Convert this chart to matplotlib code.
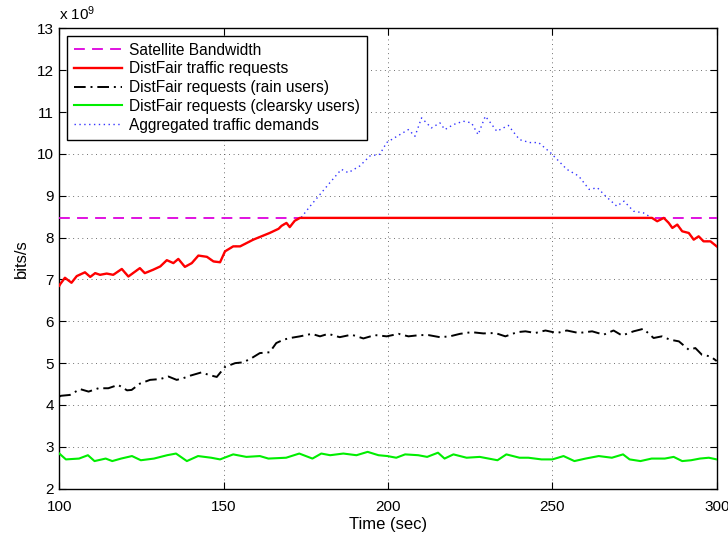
import matplotlib
matplotlib.use("Agg")
import matplotlib.pyplot as plt

plt.rcParams['font.family'] = ['Liberation Sans', 'DejaVu Sans']
plt.rcParams['mathtext.fontset'] = 'custom'
plt.rcParams['mathtext.rm'] = 'Liberation Sans'
plt.rcParams['mathtext.it'] = 'Liberation Sans'

# ---- data (values in units of 1e9 bits/s) ----
bandwidth = 8.47

agg_t = [100, 100.2, 101.7, 103.7, 105.3, 107.8, 109.4, 110.9, 112.4, 114.4, 116.4, 119.0,
         121.0, 124.5, 126.0, 128.5, 130.7, 132.7, 134.7, 136.2, 138.2, 140.3, 142.3,
         144.9, 146.9, 148.9, 150.4, 152.9, 155.0, 157.0, 159.0, 161.5, 164.0, 166.7, 167.6,
         169.1, 170.1, 171.6, 173.7, 176.3, 179.3, 182.3, 185.8, 187.9, 191.4, 194.5, 197.5,
         199.6, 202.1, 206.2, 208.2, 210.2, 213.2, 215.8, 217.3, 219.9, 222.9, 225.4, 227.4,
         229.6, 231.1, 233.1, 236.6, 240.0, 243.1, 245.8, 249.4, 251.9, 254.4, 258.0,
         261.2, 263.7, 266.2, 269.6, 271.8, 274.7, 277.7, 280.3, 281.9, 283.9, 285.4, 286.5,
         288.0, 289.5, 291.5, 293.0, 294.5, 296.0, 298.1, 300]
agg_v = [6.85, 6.88, 7.04, 6.92, 7.08, 7.17, 7.06, 7.15, 7.11, 7.14, 7.11, 7.25,
         7.07, 7.27, 7.15, 7.23, 7.31, 7.46, 7.39, 7.49, 7.30, 7.39, 7.57,
         7.54, 7.43, 7.41, 7.67, 7.79, 7.79, 7.87, 7.95, 8.03, 8.11, 8.21, 8.28,
         8.35, 8.25, 8.40, 8.49, 8.75, 9.03, 9.31, 9.63, 9.55, 9.71, 9.95, 9.99,
         10.27, 10.39, 10.58, 10.42, 10.86, 10.62, 10.74, 10.58, 10.70, 10.78, 10.74, 10.46,
         10.90, 10.75, 10.54, 10.68, 10.34, 10.27, 10.27, 10.03, 9.83, 9.63, 9.47,
         9.15, 9.19, 8.99, 8.75, 8.87, 8.63, 8.59, 8.47, 8.39, 8.47, 8.35, 8.23,
         8.31, 8.15, 8.11, 7.95, 8.03, 7.91, 7.91, 7.79]

red_t = [100, 100.2, 101.7, 103.7, 105.3, 107.8, 109.4, 110.9, 112.4, 114.4, 116.4, 119.0,
         121.0, 124.5, 126.0, 128.5, 130.7, 132.7, 134.7, 136.2, 138.2, 140.3, 142.3,
         144.9, 146.9, 148.9, 150.4, 152.9, 155.0, 157.0, 159.0, 161.5, 164.0, 166.7, 167.6,
         169.1, 170.1, 171.6, 173.2, 280.3, 281.9, 283.9, 285.4, 286.5,
         288.0, 289.5, 291.5, 293.0, 294.5, 296.0, 298.1, 300]
red_v = [6.85, 6.88, 7.04, 6.92, 7.08, 7.17, 7.06, 7.15, 7.11, 7.14, 7.11, 7.25,
         7.07, 7.27, 7.15, 7.23, 7.31, 7.46, 7.39, 7.49, 7.30, 7.39, 7.57,
         7.54, 7.43, 7.41, 7.67, 7.79, 7.79, 7.87, 7.95, 8.03, 8.11, 8.21, 8.28,
         8.35, 8.25, 8.40, 8.47, 8.47, 8.39, 8.47, 8.35, 8.23,
         8.31, 8.15, 8.11, 7.95, 8.03, 7.91, 7.91, 7.79]

rain_t = [100, 100.5, 103.2, 106.3, 108.9, 111.9, 114.9, 117.9, 120.6, 122.0, 124.5,
          127.6, 130.7, 133.2, 135.7, 137.7, 139.8, 143.3, 145.4, 147.9, 150.4, 153.5,
          156.0, 158.5, 161.0, 164.0, 166.0, 168.2, 170.2, 173.2, 176.8, 179.3, 181.8, 185.3,
          188.9, 192.5, 196.0, 199.6, 203.2, 206.2, 209.7, 212.3, 215.8, 218.8, 221.9,
          225.4, 229.0, 232.6, 235.7, 239.3, 241.8, 244.8, 247.9, 251.4, 254.4, 258.0,
          262.1, 265.6, 268.6, 271.2, 274.7, 277.7, 280.8, 283.3, 285.8, 288.5, 291.5, 293.5,
          295.5, 298.1, 300]
rain_v = [4.20, 4.22, 4.24, 4.38, 4.32, 4.40, 4.40, 4.48, 4.35, 4.36, 4.51,
          4.60, 4.62, 4.68, 4.60, 4.64, 4.70, 4.78, 4.72, 4.67, 4.91, 5.00,
          5.02, 5.12, 5.24, 5.26, 5.48, 5.56, 5.60, 5.64, 5.70, 5.64, 5.70, 5.62,
          5.68, 5.59, 5.67, 5.64, 5.70, 5.64, 5.67, 5.67, 5.62, 5.64, 5.70,
          5.74, 5.71, 5.72, 5.64, 5.74, 5.76, 5.72, 5.78, 5.72, 5.78, 5.72,
          5.76, 5.68, 5.78, 5.66, 5.76, 5.82, 5.60, 5.64, 5.56, 5.52, 5.32, 5.36,
          5.20, 5.16, 5.05]

clear_t = [100, 102, 106, 108.7, 110.7, 114.1, 116.1, 118.8, 122.1, 124.8, 128.8,
           132.8, 135.5, 138.8, 142.2, 146.2, 148.9, 152.9, 156.9, 161, 163.6, 169,
           173, 177, 179.7, 182.4, 186.4, 190.4, 193.8, 197.1, 199.8, 202.5, 205.2,
           209.2, 211.9, 215.2, 217.2, 219.9, 223.9, 227.9, 233.3, 236, 240, 242.7,
           246.7, 250, 253.4, 256.7, 260.1, 264.1, 268.1, 271.5, 273.5, 276.8, 280.2,
           284.2, 286.9, 289.5, 292.2, 294.9, 297.6, 300]
clear_v = [2.84, 2.70, 2.72, 2.80, 2.66, 2.72, 2.66, 2.72, 2.78, 2.68, 2.72,
           2.80, 2.84, 2.66, 2.78, 2.74, 2.70, 2.82, 2.76, 2.78, 2.72, 2.74,
           2.84, 2.72, 2.84, 2.80, 2.84, 2.80, 2.88, 2.80, 2.78, 2.74, 2.82,
           2.80, 2.76, 2.86, 2.72, 2.82, 2.74, 2.76, 2.68, 2.82, 2.74, 2.74,
           2.70, 2.70, 2.78, 2.66, 2.72, 2.78, 2.74, 2.82, 2.70, 2.66, 2.72,
           2.72, 2.76, 2.66, 2.68, 2.72, 2.74, 2.70]

x_ticks = [100, 150, 200, 250, 300]
y_ticks = list(range(2, 14))

# ---- figure ----
fig = plt.figure(figsize=(7.28, 5.40), dpi=100)
ax = fig.add_axes([0.0815, 0.095, 0.903, 0.8526])

fs = 11
ax.axhline(bandwidth, color='#dd00dd', lw=1.3, ls=(0, (6, 4)), zorder=3,
           label='Satellite Bandwidth')
ax.plot(red_t, red_v, color='#ff0000', lw=1.7, zorder=5, label='DistFair traffic requests')
ax.plot(rain_t, rain_v, color='k', lw=1.4, ls=(0, (6, 2.5, 1, 2.5)), zorder=4,
        label='DistFair requests (rain users)')
ax.plot(clear_t, clear_v, color='#00ee00', lw=1.5, zorder=4,
        label='DistFair requests (clearsky users)')
ax.plot(agg_t, agg_v, color='#3333ff', lw=1.0, ls=(0, (1, 2.5)), zorder=3,
        label='Aggregated traffic demands')

ax.set_xlim(100, 300)
ax.set_ylim(2, 13)
ax.set_xticks(x_ticks)
ax.set_yticks(y_ticks)
ax.tick_params(direction='in', top=True, right=True, length=5, width=0.8,
               labelsize=fs)
ax.tick_params(axis='y', pad=4)
ax.tick_params(axis='x', pad=8)
for s in ax.spines.values():
    s.set_linewidth(1.0)
ax.grid(True, color='0.25', lw=0.6, ls=(0, (1, 4.5)))
ax.set_axisbelow(True)

ax.set_xlabel('Time (sec)', fontsize=fs + 1, labelpad=2)
ax.set_ylabel('bits/s', fontsize=fs + 1, labelpad=6)
ax.text(0.0, 1.012, r'x 10$^{9}$', transform=ax.transAxes, fontsize=fs,
        ha='left', va='bottom')

handles, labels = ax.get_legend_handles_labels()
leg = ax.legend(handles, labels, loc='upper left', bbox_to_anchor=(0.012, 0.984),
                borderaxespad=0, fontsize=11.2, handlelength=3.1, labelspacing=0.24,
                handletextpad=0.4, borderpad=0.45, fancybox=False, framealpha=1,
                edgecolor='k')
leg.get_frame().set_linewidth(1.0)

fig.savefig('out.png', dpi=100)
